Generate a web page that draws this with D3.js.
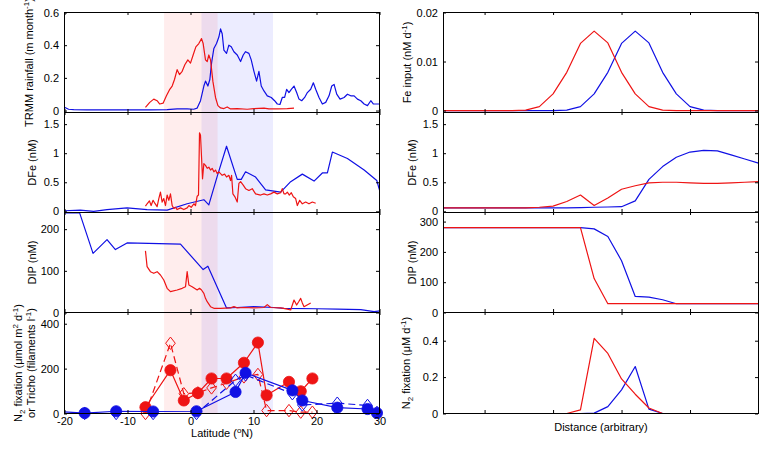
<!DOCTYPE html>
<html><head><meta charset="utf-8">
<script src="https://cdn.jsdelivr.net/npm/d3@7"></script>
<style>
body{margin:0;background:#fff}
svg{display:block}
text{font-family:"Liberation Sans",Arial,Helvetica,sans-serif}
</style>
</head><body>
<svg id="chart" width="760" height="449"></svg>
<script>
// ---------------- DATA ----------------
const latTicks = [-20, -10, 0, 10, 20, 30];
const trmmTicks = [0, 0.2, 0.4, 0.6];
const dfeTicks = [0, 0.5, 1, 1.5];
const dipLTicks = [0, 100, 200];
const n2LTicks = [0, 200, 400];
const feTicks = [0, 0.01, 0.02];
const dipRTicks = [0, 100, 200, 300];
const n2RTicks = [0, 0.2, 0.4];
const distTicks = [3, 8, 13, 18];

// shaded latitude bands
const redBand = [-4.2, 4.3];
const blueBand = [1.75, 13.1];

// TRMM rainfall [lat, m/month]
const trmmBlue = [[-20,0.02],[-19.35,0.008],[-18.55,0.005],[-16.43,0.004],[-14.31,0.004],[-11.66,0.004],[-9.0,0.004],[-6.36,0.004],[-3.71,0.006],[-2.12,0.01],[-0.53,0.01],[0.5,0.008],[1.06,0.015],[1.59,0.06],[2.12,0.15],[2.38,0.18],[2.76,0.15],[3.07,0.19],[3.34,0.29],[3.71,0.38],[4.13,0.41],[4.5,0.45],[4.77,0.5],[5.03,0.47],[5.3,0.37],[5.72,0.35],[6.09,0.40],[6.47,0.39],[6.89,0.36],[7.42,0.34],[7.95,0.30],[8.37,0.34],[8.74,0.36],[9.27,0.35],[9.64,0.31],[10.07,0.24],[10.49,0.18],[10.86,0.24],[11.23,0.15],[11.66,0.12],[12.19,0.09],[12.82,0.08],[13.35,0.06],[13.78,0.04],[14.2,0.037],[14.57,0.08],[14.94,0.08],[15.26,0.13],[15.63,0.11],[16.0,0.13],[16.43,0.15],[16.85,0.11],[17.22,0.07],[17.65,0.06],[18.12,0.08],[18.55,0.11],[19.08,0.13],[19.5,0.17],[19.87,0.13],[20.4,0.08],[20.93,0.04],[21.46,0.05],[21.99,0.09],[22.42,0.15],[22.79,0.16],[23.21,0.10],[23.74,0.07],[24.38,0.08],[24.91,0.10],[25.44,0.09],[25.97,0.09],[26.5,0.07],[27.03,0.06],[27.56,0.04],[28.09,0.03],[28.62,0.06],[29.04,0.04],[29.68,0.04],[30.1,0.04]];
const trmmRed = [[-7.15,0.02],[-6.47,0.05],[-5.83,0.07],[-5.3,0.06],[-4.88,0.04],[-4.35,0.045],[-3.82,0.09],[-3.29,0.13],[-2.91,0.15],[-2.54,0.19],[-2.12,0.25],[-1.75,0.22],[-1.32,0.24],[-0.9,0.28],[-0.42,0.31],[0,0.29],[0.42,0.34],[0.85,0.39],[1.32,0.41],[1.75,0.44],[2.01,0.41],[2.38,0.31],[2.65,0.30],[2.91,0.34],[3.18,0.31],[3.55,0.18],[3.97,0.08],[4.35,0.03],[4.77,0.016],[5.3,0.012],[5.83,0.022],[6.36,0.01],[7.42,0.012],[9.0,0.008],[10.07,0.012],[11.66,0.015],[12.45,0.01],[13.78,0.01],[15.37,0.012],[16.43,0.015]];

// DFe [lat, nM]
const dfeBlue = [[-20,0.01],[-17.49,0.02],[-15.37,0.0],[-13.25,0.03],[-10.07,0.06],[-6.89,0.03],[-3.71,0.02],[-0.53,0.13],[2.12,0.2],[2.91,0.11],[4.24,0.6],[5.72,1.12],[7.42,0.55],[8.06,0.55],[8.74,0.68],[10.33,0.59],[11.92,0.37],[14.31,0.33],[15.9,0.51],[17.75,0.64],[19.61,0.52],[20.93,0.66],[21.73,0.66],[22.52,1.02],[24.91,0.91],[27.56,0.71],[29.57,0.53],[30.2,0.29]];
const dfeRed = [[-7.15,0.09],[-6.89,0.13],[-6.52,0.18],[-6.25,0.10],[-5.94,0.19],[-5.67,0.14],[-5.3,0.08],[-5.03,0.22],[-4.77,0.33],[-4.5,0.16],[-4.24,0.22],[-3.97,0.10],[-3.71,0.28],[-3.44,0.19],[-3.18,0.30],[-2.91,0.10],[-2.65,0.05],[-2.38,0.07],[-2.12,0.03],[-1.59,0.06],[-1.06,0.03],[-0.53,0.06],[-0.26,0.10],[0.11,0.07],[0.53,0.13],[0.79,0.10],[1.06,0.26],[1.27,0.28],[1.43,1.35],[1.59,1.31],[1.75,0.94],[1.91,0.56],[2.12,0.82],[2.38,0.79],[2.65,0.74],[2.91,0.76],[3.18,0.71],[3.44,0.74],[3.71,0.68],[3.97,0.71],[4.24,0.65],[4.5,0.68],[4.77,0.65],[5.03,0.62],[5.41,0.64],[5.72,0.59],[6.09,0.62],[6.36,0.53],[6.52,0.62],[6.73,0.30],[7.05,0.25],[7.42,0.16],[7.68,0.48],[7.95,0.51],[8.37,0.45],[8.74,0.39],[9.27,0.36],[9.8,0.39],[10.33,0.30],[11.13,0.28],[11.66,0.30],[12.19,0.28],[12.72,0.30],[13.25,0.33],[13.78,0.30],[14.31,0.32],[14.57,0.39],[14.84,0.30],[15.1,0.30],[15.37,0.33],[15.69,0.28],[16.0,0.32],[16.32,0.25],[16.69,0.22],[16.96,0.10],[17.33,0.19],[17.75,0.13],[18.28,0.16],[18.81,0.13],[19.34,0.16],[19.87,0.14]];

// DIP [lat, nM]
const dipBlue = [[-20,239],[-17.6,239],[-15.47,142],[-13.25,175],[-11.92,151],[-10.07,167],[-1.59,164],[2.01,103],[2.76,111],[5.72,11],[7.42,12],[10.07,14],[13.25,12],[14.84,10],[20.14,9],[23.32,8],[27.03,7],[29.15,2],[30.2,4]];
const dipRed = [[-7.15,148],[-6.89,110],[-6.36,98],[-5.83,94],[-5.3,98],[-4.77,90],[-4.24,78],[-3.71,58],[-3.18,50],[-2.12,54],[-1.32,58],[-0.79,62],[-0.53,98],[-0.26,66],[0.26,62],[1.06,54],[1.43,58],[1.75,54],[2.12,46],[2.38,34],[2.65,26],[3.18,14],[3.71,10],[4.77,10],[6.36,11],[6.89,14],[7.42,11],[8.48,12],[10.07,11],[11.66,12],[12.19,19],[12.72,12],[14.31,11],[15.37,8],[15.9,6],[16.43,30],[16.85,18],[17.22,27],[17.49,34],[17.75,23],[18.02,14],[19.08,23]];

// N2 fixation (circles) and Trichodesmium (diamonds) [lat, value]
const n2Red = [[-7.15,28],[-3.18,193],[-1.06,58],[1.17,91],[3.34,156],[5.72,156],[8.48,226],[10.7,316],[12.08,81],[15.63,141],[17.5,99],[19.35,156]];
const trichoRed = [[-7.15,0],[-3.18,313],[-1.06,88],[1.17,92],[3.34,114],[5.72,135],[8.48,163],[10.7,174],[12.08,13],[15.63,13],[17.5,6],[19.35,6]];
const n2Blue = [[-22,10],[-16.8,2],[-11.8,10],[-5.93,9],[0.95,10],[7.15,96],[8.74,181],[16.17,103],[17.75,58],[23.3,26],[28.1,20],[29.6,2]];
const trichoBlue = [[-16.8,0],[-11.8,0],[-5.93,0],[0.95,0],[7.15,148],[8.74,172],[16.17,88],[17.75,38],[23.3,46],[28.1,36],[29.6,5]];

// Model (right column), value per distance node
const distance = [0,1,2,3,4,5,6,7,8,9,10,11,12,13,14,15,16,17,18,19,20,21,22,23];
const feRed  = [0,0,0,0,0,0,0.0001,0.0008,0.0034,0.0078,0.0137,0.0162,0.0138,0.0078,0.0034,0.0008,0.0001,0,0,0,0,0,0,0];
const feBlue = [0,0,0,0,0,0,0,0,0,0.0001,0.0008,0.0034,0.0078,0.0137,0.0162,0.0138,0.0078,0.0034,0.0008,0.0001,0,0,0,0];
const dfeRedM  = [0.06,0.06,0.06,0.06,0.06,0.06,0.06,0.07,0.09,0.17,0.28,0.10,0.23,0.38,0.44,0.49,0.50,0.50,0.49,0.48,0.48,0.49,0.50,0.51];
const dfeBlueM = [0.06,0.06,0.06,0.06,0.06,0.06,0.06,0.06,0.06,0.06,0.065,0.07,0.075,0.08,0.18,0.55,0.77,0.93,1.02,1.05,1.04,0.97,0.90,0.83];
const dipRedM  = [280,280,280,280,280,280,280,280,280,280,280,112,29,29,29,29,29,29,29,29,29,29,29,29];
const dipBlueM = [280,280,280,280,280,280,280,280,280,280,280,276,251,171,53,51,42,29,29,29,29,29,29,29];
const n2RedM  = [0,0,0,0,0,0,0,0,0,0,0.02,0.413,0.33,0.19,0.106,0.03,0,0,0,0,0,0,0,0];
const n2BlueM = [0,0,0,0,0,0,0,0,0,0,0,0.002,0.038,0.13,0.258,0.024,0,0,0,0,0,0,0,0];

// ---------------- DRAWING ----------------
const RED = "#ee1414", BLUE = "#1010e4";
const svg = d3.select("#chart");
const LX = [64.5, 379.5], RX = [443.5, 758.5];
const PY = [[12.5,112.5],[112.5,212.5],[212.5,312.5],[312.5,413.5]];
const xL = d3.scaleLinear().domain([-20,30]).range(LX);
const xR = d3.scaleLinear().domain([0,23]).range(RX);
const yS = (dom, i) => d3.scaleLinear().domain(dom).range([PY[i][1], PY[i][0]]);

let clipN = 0;
function clip(x, i, padX, padY) {
  const id = "clip" + (clipN++);
  svg.append("clipPath").attr("id", id).append("rect")
    .attr("x", x.range()[0] - padX[0]).attr("y", PY[i][0] - padY)
    .attr("width", x.range()[1] - x.range()[0] + padX[0] + padX[1])
    .attr("height", PY[i][1] - PY[i][0] + 2 * padY);
  return "url(#" + id + ")";
}

function rich(sel, parts, small) {
  let cur = 0;
  parts.forEach(p => {
    const s = p.sup ? -4 : (p.sub ? 3 : 0);
    const t = sel.append("tspan").text(p.t).attr("dy", s - cur);
    if (p.sup || p.sub) t.attr("font-size", small || 8);
    cur = s;
  });
}

function frame(x, y, i, xTicks, yTicks, showX) {
  const g = svg.append("g");
  const [x0, x1] = x.range(), [y0, y1] = [PY[i][0], PY[i][1]];
  const style = s => { s.selectAll(".domain").remove(); s.selectAll("text").attr("font-size", 11).attr("fill", "#000").style("font-family", '"Liberation Sans",Arial,sans-serif'); s.selectAll("line").attr("stroke", "#000"); };
  g.append("g").attr("transform", `translate(${x0 - 0.5},0)`)
    .call(d3.axisLeft(y).tickValues(yTicks).tickFormat(d => String(d)).tickSizeInner(-3).tickSizeOuter(0).tickPadding(5)).call(style);
  g.append("g").attr("transform", `translate(${x1 - 0.5},0)`)
    .call(d3.axisRight(y).tickValues(yTicks).tickFormat("").tickSizeInner(-3).tickSizeOuter(0)).call(style);
  g.append("g").attr("transform", `translate(0,${y0 - 0.5})`)
    .call(d3.axisTop(x).tickValues(xTicks).tickFormat("").tickSizeInner(-3).tickSizeOuter(0)).call(style);
  g.append("g").attr("transform", `translate(0,${y1 - 0.5})`)
    .call(d3.axisBottom(x).tickValues(xTicks).tickFormat(showX ? (d => String(d)) : "").tickSizeInner(-3).tickSizeOuter(0).tickPadding(4)).call(style);
  g.append("rect").attr("x", x0).attr("y", y0).attr("width", x1 - x0).attr("height", y1 - y0)
    .attr("fill", "none").attr("stroke", "#000").attr("stroke-width", 1);
}

function ylabel(cx, cy, parts) {
  const t = svg.append("text").attr("transform", `translate(${cx},${cy}) rotate(-90)`)
    .attr("text-anchor", "middle").attr("font-size", 11).attr("fill", "#000");
  rich(t, parts);
}

function series(x, y, i, data, color, dash) {
  const line = d3.line().x(d => x(d[0])).y(d => y(d[1]));
  svg.append("path").datum(data).attr("d", line).attr("fill", "none")
    .attr("stroke", color).attr("stroke-width", 1.2).attr("stroke-linejoin", "round")
    .attr("stroke-dasharray", dash || null)
    .attr("clip-path", clip(x, i, [0, 0], 1));
}

// shading in left panels
PY.forEach((py, i) => {
  const g = svg.append("g");
  g.append("rect").attr("x", xL(blueBand[0])).attr("width", xL(blueBand[1]) - xL(blueBand[0]))
    .attr("y", py[0]).attr("height", py[1] - py[0]).attr("fill", "#0000ff").attr("fill-opacity", 0.075);
  g.append("rect").attr("x", xL(redBand[0])).attr("width", xL(redBand[1]) - xL(redBand[0]))
    .attr("y", py[0]).attr("height", py[1] - py[0]).attr("fill", "#ff0000").attr("fill-opacity", 0.07);
});

// ----- Left column -----
const yTrmm = yS([-0.012, 0.6], 0);
const yDfeL = yS([-0.02, 1.7], 1);
const yDipL = yS([0, 240], 2);
const yN2L  = yS([0, 450], 3);

series(xL, yTrmm, 0, trmmBlue, BLUE);
series(xL, yTrmm, 0, trmmRed, RED);
series(xL, yDfeL, 1, dfeBlue, BLUE);
series(xL, yDfeL, 1, dfeRed, RED);
series(xL, yDipL, 2, dipBlue, BLUE);
series(xL, yDipL, 2, dipRed, RED);

// N2 / Tricho panel
function markers(data, kind, color) {
  const cp = clip(xL, 3, [0, 9], 9);
  const g = svg.append("g").attr("clip-path", cp);
  if (kind === "circle") {
    g.selectAll("circle").data(data).join("circle")
      .attr("cx", d => xL(d[0])).attr("cy", d => yN2L(d[1])).attr("r", 5.6)
      .attr("fill", color).attr("stroke", color).attr("stroke-width", 0.8);
  } else {
    g.selectAll("path").data(data).join("path")
      .attr("d", d => { const cx = xL(d[0]), cy = yN2L(d[1]); return `M${cx},${cy-6.2}L${cx+4.8},${cy}L${cx},${cy+6.2}L${cx-4.8},${cy}Z`; })
      .attr("fill", "none").attr("stroke", color).attr("stroke-width", 1);
  }
}
series(xL, yN2L, 3, trichoRed, RED, "7,4");
markers(trichoRed, "diamond", RED);
series(xL, yN2L, 3, n2Red, RED);
markers(n2Red, "circle", RED);
series(xL, yN2L, 3, trichoBlue, BLUE, "7,4");
markers(trichoBlue, "diamond", BLUE);
series(xL, yN2L, 3, n2Blue, BLUE);
markers(n2Blue, "circle", BLUE);

frame(xL, yTrmm, 0, latTicks, trmmTicks, false);
frame(xL, yDfeL, 1, latTicks, dfeTicks, false);
frame(xL, yDipL, 2, latTicks, dipLTicks, false);
frame(xL, yN2L, 3, latTicks, n2LTicks, true);

// ----- Right column -----
const yFe   = yS([-0.0004, 0.02], 0);
const yDfeR = yS([-0.02, 1.7], 1);
const yDipR = yS([0, 330], 2);
const yN2R  = yS([0, 0.555], 3);
const zipD = vals => distance.map((d, k) => [d, vals[k]]);

series(xR, yFe, 0, zipD(feBlue), BLUE);
series(xR, yFe, 0, zipD(feRed), RED);
series(xR, yDfeR, 1, zipD(dfeBlueM), BLUE);
series(xR, yDfeR, 1, zipD(dfeRedM), RED);
series(xR, yDipR, 2, zipD(dipBlueM), BLUE);
series(xR, yDipR, 2, zipD(dipRedM), RED);
series(xR, yN2R, 3, zipD(n2BlueM), BLUE);
series(xR, yN2R, 3, zipD(n2RedM), RED);

frame(xR, yFe, 0, distTicks, feTicks, false);
frame(xR, yDfeR, 1, distTicks, dfeTicks, false);
frame(xR, yDipR, 2, distTicks, dipRTicks, false);
frame(xR, yN2R, 3, distTicks, n2RTicks, false);

// ----- Labels -----
const mid = i => (PY[i][0] + PY[i][1]) / 2;
ylabel(33, mid(0), [{t:"TRMM rainfall (m month"},{t:"-1",sup:1},{t:")"}]);
ylabel(36, mid(1), [{t:"DFe (nM)"}]);
ylabel(36, mid(2), [{t:"DIP (nM)"}]);
ylabel(22, mid(3), [{t:"N"},{t:"2",sub:1},{t:" fixation (μmol m"},{t:"2",sup:1},{t:" d"},{t:"-1",sup:1},{t:")"}]);
ylabel(35, mid(3), [{t:"or Tricho (filaments l"},{t:"-1",sup:1},{t:")"}]);

ylabel(411, mid(0), [{t:"Fe input (nM d"},{t:"-1",sup:1},{t:")"}]);
ylabel(416, mid(1), [{t:"DFe (nM)"}]);
ylabel(416, mid(2), [{t:"DIP (nM)"}]);
ylabel(410, mid(3), [{t:"N"},{t:"2",sub:1},{t:" fixation (μM d"},{t:"-1",sup:1},{t:")"}]);

const xl1 = svg.append("text").attr("x", (LX[0] + LX[1]) / 2).attr("y", 437)
  .attr("text-anchor", "middle").attr("font-size", 11).attr("fill", "#000");
rich(xl1, [{t:"Latitude ("},{t:"o",sup:1},{t:"N)"}]);
svg.append("text").attr("x", (RX[0] + RX[1]) / 2).attr("y", 431)
  .attr("text-anchor", "middle").attr("font-size", 11).attr("fill", "#000").text("Distance (arbitrary)");
</script>
</body></html>
